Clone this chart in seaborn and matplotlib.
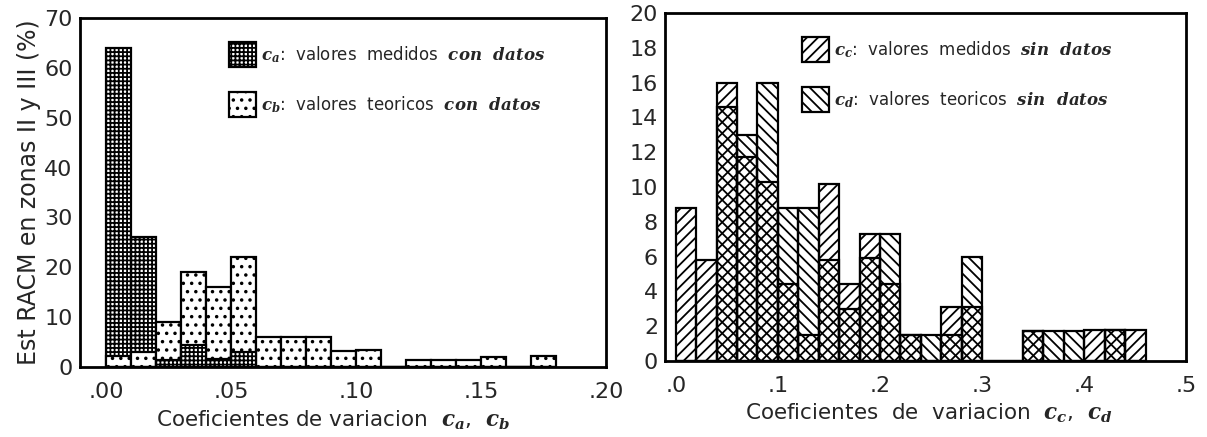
import numpy as np
import pandas as pd
import matplotlib
matplotlib.use("Agg")
import matplotlib.pyplot as plt
from matplotlib.patches import Patch
import seaborn as sns

# ---- data -------------------------------------------------------------
# coefficient-of-variation bins (left: width 0.01, right: width 0.02)
edges_ab = np.round(np.arange(0.0, 0.1801, 0.01), 3)
c_a = np.array([64.0, 26.0, 1.5, 4.5, 1.7, 3.0, 0, 0, 0, 0, 0, 0, 0, 0, 0, 0, 0, 0])
c_b = np.array([2.2, 3.0, 9.0, 19.0, 16.0, 22.0, 6.0, 6.0, 6.0, 3.3, 3.4, 0,
                1.5, 1.5, 1.5, 2.0, 0, 2.2])

edges_cd = np.round(np.arange(0.0, 0.4601, 0.02), 3)
c_c = np.array([8.8, 5.8, 16.0, 11.7, 10.3, 4.4, 1.5, 10.2, 4.4, 7.3, 4.4, 1.5,
                0, 3.1, 3.1, 0, 0, 1.7, 0, 0, 1.8, 1.8, 1.8])
c_d = np.array([0, 0, 14.6, 13.0, 16.0, 8.8, 8.8, 5.8, 3.0, 5.9, 7.3, 1.5,
                1.5, 1.5, 6.0, 0, 0, 1.7, 1.7, 1.7, 0, 1.8, 0])

xticks_ab = [0.0, 0.05, 0.10, 0.15, 0.20]
xlabels_ab = [".00", ".05", ".10", ".15", ".20"]
yticks_ab = [0, 10, 20, 30, 40, 50, 60, 70]
xticks_cd = [0.0, 0.1, 0.2, 0.3, 0.4, 0.5]
xlabels_cd = [".0", ".1", ".2", ".3", ".4", ".5"]
yticks_cd = list(range(0, 21, 2))

labels_ab = [r"$c_a$:  valores  medidos  $\mathbf{con\ \ datos}$",
             r"$c_b$:  valores  teoricos  $\mathbf{con\ \ datos}$"]
labels_cd = [r"$c_c$:  valores  medidos  $\mathbf{sin\ \ datos}$",
             r"$c_d$:  valores  teoricos  $\mathbf{sin\ \ datos}$"]

# ---- style ------------------------------------------------------------
sns.set_style("white")
plt.rcParams["font.family"] = ["DejaVu Sans"]
plt.rcParams["mathtext.fontset"] = "custom"
plt.rcParams["mathtext.rm"] = "DejaVu Sans"
plt.rcParams["mathtext.it"] = "DejaVu Serif:italic:bold"
plt.rcParams["mathtext.bf"] = "DejaVu Serif:italic:bold"
plt.rcParams["hatch.linewidth"] = 1.3
plt.rcParams["hatch.color"] = "black"

HATCH_A, HATCH_B = "++++", ".."
HATCH_C, HATCH_D = "///", "\\\\\\"
bar_kw = dict(edgecolor="black", linewidth=1.6)

fig = plt.figure(figsize=(12.07, 4.37), dpi=100)
ax1 = fig.add_axes([0.066, 0.160, 0.436, 0.799])
ax2 = fig.add_axes([0.551, 0.174, 0.432, 0.796])


def hist(ax, edges, weights, hatch, face):
    mids = (edges[:-1] + edges[1:]) / 2
    df = pd.DataFrame({"cv": mids, "pct": weights})
    sns.histplot(data=df, x="cv", weights="pct",
                 binwidth=float(edges[1] - edges[0]),
                 binrange=(float(edges[0]), float(edges[-1])), ax=ax,
                 facecolor=face, hatch=hatch, **bar_kw)


# ---- left: measured vs theoretical with data ---------------------------
hist(ax1, edges_ab, c_a, HATCH_A, "white")
hist(ax1, edges_ab, c_b, HATCH_B, "white")
# the shorter bar of each pair sits in front
hist(ax1, edges_ab, np.where(c_a < c_b, c_a, 0), HATCH_A, "white")

# ---- right: measured vs theoretical without data ------------------------
hist(ax2, edges_cd, c_c, HATCH_C, "none")
hist(ax2, edges_cd, c_d, HATCH_D, "none")

# ---- axes -----------------------------------------------------------------
for ax, xt, xl, yt, xlim, ylim in (
        (ax1, xticks_ab, xlabels_ab, yticks_ab, (-0.0105, 0.20), (0, 70)),
        (ax2, xticks_cd, xlabels_cd, yticks_cd, (-0.0105, 0.50), (0, 20))):
    ax.set_xlim(*xlim)
    ax.set_ylim(*ylim)
    ax.set_xticks(xt, xl)
    ax.set_yticks(yt)
    ax.tick_params(axis="y", direction="in", length=7, width=1.6, pad=5,
                   labelsize=16)
    ax.tick_params(axis="x", length=0, pad=11, labelsize=16)
    for sp in ax.spines.values():
        sp.set_visible(True)
        sp.set_linewidth(2.0)
        sp.set_color("black")
    ax.set_ylabel("")

ax1.set_ylabel("Est RACM en zonas II y III (%)", fontsize=17, labelpad=2)
ax1.set_xlabel(r"Coeficientes de variacion  $c_a$,  $c_b$", fontsize=15.5,
               labelpad=4)
ax1.xaxis.label.set_x(0.481)
ax2.set_xlabel(r"Coeficientes  de  variacion  $c_c$,  $c_d$", fontsize=15.5,
               labelpad=4)
ax2.xaxis.label.set_x(0.506)

leg_kw = dict(frameon=False, loc="upper left", fontsize=12, handlelength=1.62,
              handleheight=1.92, labelspacing=1.5, handletextpad=0.3,
              borderpad=0, borderaxespad=0)
h_ab = [Patch(facecolor="white", edgecolor="black", linewidth=1.6, hatch=HATCH_A),
        Patch(facecolor="white", edgecolor="black", linewidth=1.6, hatch=HATCH_B)]
ax1.legend(h_ab, labels_ab, bbox_to_anchor=(0.283, 0.93), **leg_kw)
h_cd = [Patch(facecolor="white", edgecolor="black", linewidth=1.6, hatch=HATCH_C),
        Patch(facecolor="white", edgecolor="black", linewidth=1.6, hatch=HATCH_D)]
ax2.legend(h_cd, labels_cd, bbox_to_anchor=(0.262, 0.93), **leg_kw)

fig.savefig("out.png", dpi=100)
